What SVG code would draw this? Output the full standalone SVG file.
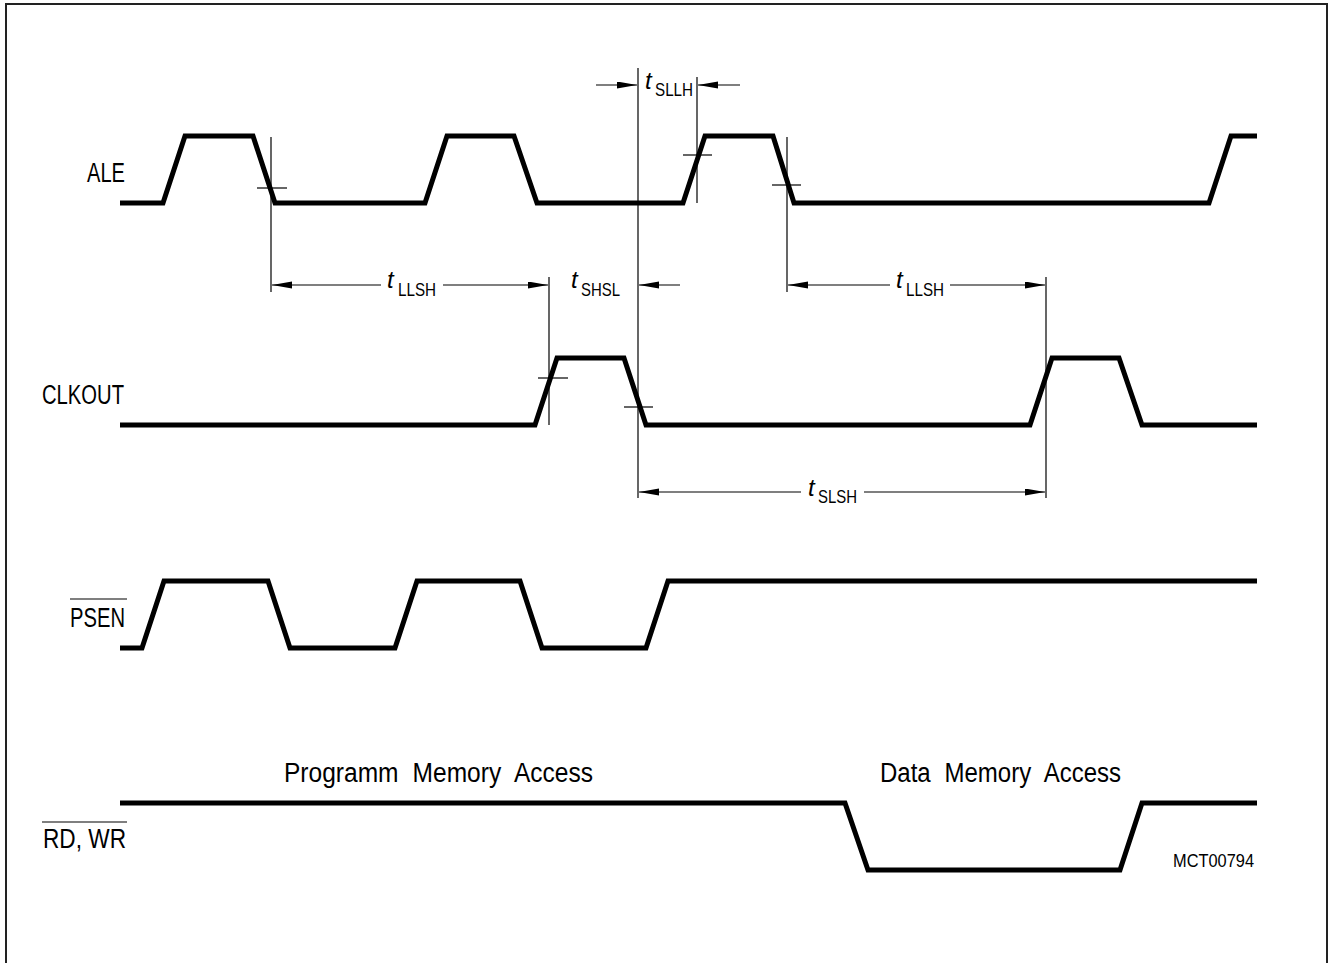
<svg xmlns="http://www.w3.org/2000/svg" width="1331" height="963" viewBox="0 0 1331 963">
<style>
.sig{fill:none;stroke:#000;stroke-width:5;stroke-linejoin:miter;stroke-linecap:butt}
.thin{fill:none;stroke:#000;stroke-width:1.2}
.dim{fill:none;stroke:#000;stroke-width:1.2}
.lbl{font-family:"Liberation Sans",Arial,sans-serif;font-size:27px;fill:#000}
.t{font-family:"Liberation Sans",Arial,sans-serif;font-size:24px;font-style:italic;fill:#000}
.sub{font-family:"Liberation Sans",Arial,sans-serif;font-size:19px;font-style:normal;fill:#000}
.frame{fill:none;stroke:#222;stroke-width:2}
</style>
<defs>
<marker id="ah" markerUnits="userSpaceOnUse" markerWidth="21" markerHeight="8" refX="20" refY="3.5" orient="auto">
<path d="M0,0 L20,3.5 L0,7 z" fill="#000"/>
</marker>
</defs>
<rect x="0" y="0" width="1331" height="963" fill="#fff"/>
<path class="frame" d="M6,963 V4 H1327 V963"/>

<g id="ALE">
<text class="lbl" x="87" y="182" textLength="38" lengthAdjust="spacingAndGlyphs">ALE</text>
<path class="sig" d="M120,203 H163 L185,136 H253 L275,203 H425 L447,136 H514 L537,203 H683 L705,136 H773 L794,203 H1209 L1231,136 H1257"/>
</g>

<g id="CLKOUT">
<text class="lbl" x="42" y="404" textLength="82" lengthAdjust="spacingAndGlyphs">CLKOUT</text>
<path class="sig" d="M120,425 H535 L557,358 H624 L646,425 H1030 L1052,358 H1119 L1142,425 H1257"/>
</g>

<g id="PSEN">
<text class="lbl" x="70" y="627" textLength="55" lengthAdjust="spacingAndGlyphs">PSEN</text>
<line class="thin" x1="70" y1="599" x2="127" y2="599"/>
<path class="sig" d="M120,648 H142 L164,581 H268 L290,648 H395 L417,581 H520 L542,648 H646 L668,581 H1257"/>
</g>

<g id="RDWR">
<text class="lbl" x="43" y="848" textLength="83" lengthAdjust="spacingAndGlyphs">RD, WR</text>
<line class="thin" x1="42" y1="822" x2="127" y2="822"/>
<path class="sig" d="M120,803 H845 L868,870 H1120 L1142,803 H1257"/>
</g>

<g id="program-access">
<text class="lbl" x="284" y="782" textLength="309" lengthAdjust="spacingAndGlyphs" word-spacing="8">Programm Memory Access</text>
</g>
<g id="data-access">
<text class="lbl" x="880" y="782" textLength="241" lengthAdjust="spacingAndGlyphs" word-spacing="8">Data Memory Access</text>
</g>
<g id="figure-id">
<text class="lbl" x="1173" y="867" textLength="81" lengthAdjust="spacingAndGlyphs" style="font-size:19px">MCT00794</text>
</g>

<g id="connectors">
<!-- reference verticals -->
<line class="dim" x1="271" y1="137" x2="271" y2="292"/>
<line class="dim" x1="638" y1="68" x2="638" y2="498"/>
<line class="dim" x1="697" y1="77" x2="697" y2="203"/>
<line class="dim" x1="787" y1="137" x2="787" y2="292"/>
<line class="dim" x1="549" y1="277" x2="549" y2="425"/>
<line class="dim" x1="1046" y1="277" x2="1046" y2="498"/>
<!-- ticks -->
<line class="dim" x1="257" y1="188" x2="287" y2="188"/>
<line class="dim" x1="683" y1="155" x2="712" y2="155"/>
<line class="dim" x1="772" y1="185" x2="801" y2="185"/>
<line class="dim" x1="538" y1="378" x2="568" y2="378"/>
<line class="dim" x1="624" y1="407" x2="653" y2="407"/>
<!-- tSLLH -->
<line class="dim" x1="596" y1="85" x2="637" y2="85" marker-end="url(#ah)"/>
<line class="dim" x1="740" y1="85" x2="698" y2="85" marker-end="url(#ah)"/>
<!-- tLLSH 1 -->
<line class="dim" x1="381" y1="285" x2="272" y2="285" marker-end="url(#ah)"/>
<line class="dim" x1="443" y1="285" x2="548" y2="285" marker-end="url(#ah)"/>
<!-- tSHSL -->
<line class="dim" x1="680" y1="285" x2="639" y2="285" marker-end="url(#ah)"/>
<!-- tLLSH 2 -->
<line class="dim" x1="890" y1="285" x2="788" y2="285" marker-end="url(#ah)"/>
<line class="dim" x1="950" y1="285" x2="1045" y2="285" marker-end="url(#ah)"/>
<!-- tSLSH -->
<line class="dim" x1="801" y1="492" x2="639" y2="492" marker-end="url(#ah)"/>
<line class="dim" x1="864" y1="492" x2="1045" y2="492" marker-end="url(#ah)"/>
</g>

<g id="label-tSLLH">
<text class="t" x="645" y="89">t<tspan class="sub" x="655" y="96" textLength="38" lengthAdjust="spacingAndGlyphs">SLLH</tspan></text>
</g>
<g id="label-tLLSH-1">
<text class="t" x="387" y="288">t<tspan class="sub" x="398" y="296" textLength="38" lengthAdjust="spacingAndGlyphs">LLSH</tspan></text>
</g>
<g id="label-tSHSL">
<text class="t" x="571" y="288">t<tspan class="sub" x="581" y="296" textLength="39" lengthAdjust="spacingAndGlyphs">SHSL</tspan></text>
</g>
<g id="label-tLLSH-2">
<text class="t" x="896" y="288">t<tspan class="sub" x="906" y="296" textLength="38" lengthAdjust="spacingAndGlyphs">LLSH</tspan></text>
</g>
<g id="label-tSLSH">
<text class="t" x="808" y="496">t<tspan class="sub" x="818" y="503" textLength="39" lengthAdjust="spacingAndGlyphs">SLSH</tspan></text>
</g>
</svg>
